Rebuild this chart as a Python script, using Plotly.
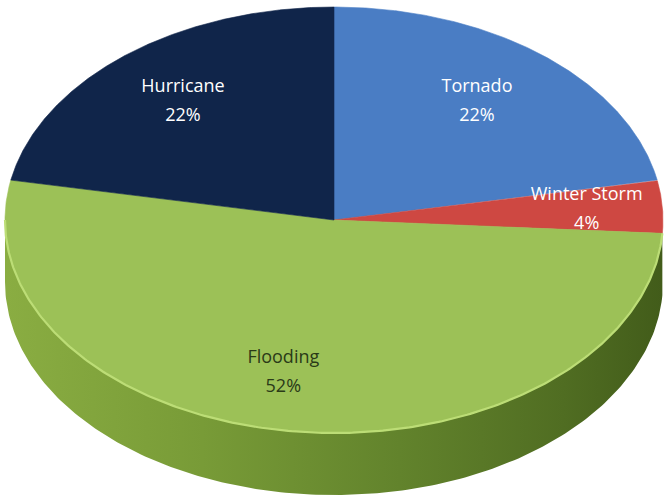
import numpy as np
import plotly.graph_objects as go

# ---- data ----
categories = ["Tornado", "Winter Storm", "Flooding", "Hurricane"]
values = [22, 4, 52, 22]

# ---- style ----
top_colors = ["#4A7DC4", "#CE4842", "#9CC157", "#10254A"]
side_colors = ["#2F5A94", "#8E2E2A", "#6E8F30", "#0A1830"]
text_colors = ["white", "white", "#2A3A18", "white"]
label_r = {"Winter Storm": 0.8}
label_dx = {"Tornado": -8, "Winter Storm": -10, "Flooding": -21}
W, H = 665, 497
cx, cy, a, b, depth = 334, 220, 329, 213, 62
FONT = "Open Sans"


def pt(t_deg, r=1.0, dy=0.0):
    t = np.radians(t_deg)
    return cx + a * r * np.cos(t), cy - b * r * np.sin(t) + dy


fig = go.Figure()
total = float(sum(values))
start = 90.0
slices = []
for cat, v in zip(categories, values):
    sweep = 360.0 * v / total
    slices.append((cat, v, start, start - sweep))
    start -= sweep

# side walls (visible front half: angles between -180 and 0)
for i, (cat, v, hi, lo) in enumerate(slices):
    s_hi = min(hi, 0.0)
    s_lo = max(lo, -180.0)
    if s_hi <= s_lo:
        continue
    ts = np.linspace(s_hi, s_lo, 200)
    xt, yt = pt(ts)
    xb, yb = pt(ts[::-1], dy=depth)
    xs = np.concatenate([xt, xb, xt[:1]])
    ys = np.concatenate([yt, yb, yt[:1]])
    kw = {}
    if cat == "Flooding":
        kw["fillgradient"] = dict(
            type="horizontal",
            colorscale=[[0, "#8AAD42"], [0.3, "#789B37"], [0.6, "#62832C"],
                        [0.85, "#506D22"], [1, "#425C1A"]],
        )
    fig.add_trace(go.Scatter(
        x=xs, y=ys, mode="lines", fill="toself", fillcolor=side_colors[i],
        line=dict(width=0), hoverinfo="skip", showlegend=False, **kw))

# top faces
for i, (cat, v, hi, lo) in enumerate(slices):
    ts = np.linspace(hi, lo, 300)
    xa, ya = pt(ts)
    xs = np.concatenate([[cx], xa, [cx]])
    ys = np.concatenate([[cy], ya, [cy]])
    fig.add_trace(go.Scatter(
        x=xs, y=ys, mode="lines", fill="toself", fillcolor=top_colors[i],
        line=dict(width=0.6, color=top_colors[i]), name=cat,
        hovertemplate=f"{cat}: {v}%<extra></extra>", showlegend=False))

# highlight on the front rim
ts = np.linspace(-180, -3.6, 300)
xr, yr = pt(ts)
fig.add_trace(go.Scatter(x=xr, y=yr, mode="lines",
                         line=dict(color="#BCDD76", width=2.2),
                         hoverinfo="skip", showlegend=False))

# labels
for i, (cat, v, hi, lo) in enumerate(slices):
    mid = (hi + lo) / 2
    lx, ly = pt(mid, r=label_r.get(cat, 0.72))
    lx += label_dx.get(cat, 0)
    fig.add_trace(go.Scatter(
        x=[lx, lx], y=[ly - 14, ly + 15], mode="text",
        text=[cat, f"{v}%"],
        textfont=dict(family=FONT, size=18, color=text_colors[i]),
        hoverinfo="skip", showlegend=False))

fig.update_layout(
    width=W, height=H, margin=dict(l=0, r=0, t=0, b=0),
    paper_bgcolor="white", plot_bgcolor="white",
    xaxis=dict(range=[0, W], visible=False, fixedrange=True),
    yaxis=dict(range=[H, 0], visible=False, fixedrange=True),
)
fig.write_html("out.html")
